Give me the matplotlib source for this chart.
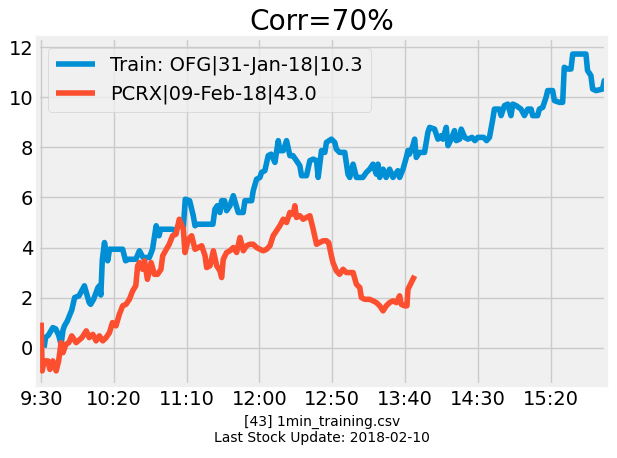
import matplotlib
matplotlib.use("Agg")
import matplotlib.pyplot as plt

# minutes since 9:30 and values
train_min = [2, 3, 5, 8, 10, 12, 13.7, 15, 16, 18, 21, 23, 26, 29.7, 31, 33, 34, 36, 39, 40,
             41, 42, 43.5, 44.5, 45.7, 47, 49, 56, 58, 60, 65, 67.5, 70, 74.3, 76.5, 79, 81, 82,
             86, 90, 92, 94.5, 96, 97.7, 99, 102, 104.5, 105.7, 107, 112, 118, 119.4, 121, 122.8,
             124, 126, 127.4, 129.7, 132, 134, 135.4, 138.8, 140, 144.6, 145.7, 148, 150.3, 151.4,
             153.7, 156, 158, 160.6, 162.9, 164, 166.3, 168.6, 170.9, 173, 175.4, 177.7, 178.9,
             182.3, 184.6, 186.9, 189.2, 190.3, 192.6, 194.9, 196, 199.4, 201.7, 202.8, 205, 208.6,
             210.8, 212, 214.3, 216.6, 221, 223.4, 225.7, 228, 230.3, 231.4, 232.6, 234.9, 237,
             239.4, 241.7, 245.1, 246.3, 248.6, 250.9, 252, 253, 255.4, 256.6, 257.7, 260, 263.4,
             265.7, 266.9, 270.3, 272.6, 274.9, 276, 278.3, 279.5, 281.7, 284, 285.2, 287.5, 288.6,
             291, 293.2, 296, 298, 300, 304, 306, 308, 310.3, 311.4, 314.8, 316, 318.3, 320.6, 322.8,
             324, 326.3, 329.7, 332, 334.3, 336.6, 337.7, 341.1, 342.3, 344.6, 346.9, 348, 351.4,
             352.6, 356, 358.3, 359.4, 361.7, 364, 365.2, 370, 374.3, 375.4, 377.7, 378.9, 381.2,
             385.7, 386.9, 388]
train_val = [0.0, 0.4, 0.5, 0.8, 0.75, 0.5, 0.13, 0.7, 0.87, 1.07, 1.5, 2.0, 2.07, 2.47, 2.2, 1.8,
             1.73, 1.93, 2.4, 2.47, 2.1, 3.5, 4.2, 3.87, 3.47, 3.93, 3.93, 3.93, 3.47, 3.53, 3.53,
             3.87, 3.6, 3.6, 3.93, 4.87, 4.47, 4.73, 4.73, 4.73, 4.67, 4.87, 5.0, 4.8, 5.93, 5.87,
             5.27, 4.87, 4.93, 4.93, 4.93, 5.53, 5.67, 5.4, 5.87, 5.87, 5.47, 5.67, 6.07, 5.67, 5.4,
             5.4, 5.87, 5.87, 6.27, 6.73, 6.8, 7.0, 7.07, 7.67, 7.73, 7.4, 8.27, 7.87, 7.87, 8.27,
             7.67, 7.67, 7.47, 7.27, 6.87, 6.87, 7.47, 7.53, 7.47, 6.8, 7.87, 7.8, 8.2, 8.33, 8.2,
             7.93, 7.8, 7.8, 6.93, 6.8, 7.33, 6.8, 6.8, 7.0, 7.13, 7.33, 6.93, 7.33, 6.8, 7.13, 6.8,
             7.13, 6.8, 7.07, 6.8, 7.13, 7.6, 7.87, 7.73, 8.07, 8.33, 7.6, 7.8, 7.8, 8.6, 8.8, 8.73,
             8.33, 8.47, 8.33, 8.8, 8.07, 8.33, 8.67, 8.27, 8.33, 8.73, 8.4, 8.33, 8.4, 8.27, 8.4,
             8.4, 8.27, 8.4, 9.13, 9.53, 9.53, 9.27, 9.67, 9.73, 9.27, 9.73, 9.67, 9.53, 9.27, 9.53,
             9.53, 9.27, 9.27, 9.53, 9.6, 10.0, 10.27, 10.27, 9.87, 9.8, 9.8, 11.2, 11.13, 11.13,
             11.73, 11.73, 11.73, 11.07, 10.87, 10.33, 10.27, 10.33, 10.67, 10.6]

test_min = [0, 0.7, 2, 4.6, 6, 8, 10.3, 12, 13.7, 15, 17, 19, 21, 24, 28, 31, 33, 35.5, 37.7, 40,
            42.3, 44.6, 46.9, 49, 51.4, 53.7, 56, 58.3, 60.6, 62.9, 65, 66.3, 67.5, 69.7, 71, 73,
            75.5, 77.8, 80, 82.3, 83.5, 86, 88, 90.3, 92.6, 94.9, 97.7, 98.8, 101.1, 103.4, 105.7,
            108, 110.3, 112.6, 113.7, 116, 118.3, 120.6, 122.8, 124, 125.1, 127.4, 129.7, 132,
            134.3, 136.6, 138.9, 141.1, 143.4, 145.7, 148, 150.3, 152.6, 154.9, 157.2, 159.4,
            161.7, 164, 166.3, 168.6, 170.9, 173.2, 174.3, 175.4, 177.7, 180, 182.3, 184.6, 186.9,
            189.2, 191.4, 193.7, 196, 197.5, 199.4, 200.5, 202.8, 205, 207.4, 209.7, 212, 214.3,
            216.6, 218.9, 220, 222.3, 225.7, 228, 230.3, 232.6, 234.9, 237.1, 239.4, 241.7, 244,
            246.3, 247.4, 249.7, 251.3, 252, 254.3, 256.6]
test_val = [1.0, -0.93, -0.53, -0.53, -0.87, -0.53, -0.93, -0.53, 0.2, -0.2, 0.13, 0.2, 0.47, 0.2,
            0.4, 0.67, 0.4, 0.53, 0.27, 0.47, 0.27, 0.4, 0.6, 1.0, 0.87, 1.33, 1.67, 1.73, 1.93,
            2.27, 2.47, 3.27, 3.4, 3.13, 3.47, 2.73, 3.4, 2.93, 2.93, 3.13, 3.67, 3.93, 4.13, 4.47,
            4.53, 5.13, 4.73, 3.8, 4.33, 4.47, 3.93, 4.0, 4.07, 3.67, 3.2, 3.27, 3.87, 3.27, 3.07,
            2.8, 3.53, 3.8, 3.87, 4.0, 3.8, 4.4, 3.87, 4.07, 4.13, 4.13, 4.0, 3.93, 3.87, 3.93,
            4.07, 4.47, 4.67, 4.87, 5.13, 5.0, 5.4, 5.33, 5.67, 5.2, 5.27, 5.13, 5.2, 5.27, 4.73,
            4.13, 4.2, 4.27, 4.27, 4.2, 3.67, 3.4, 3.07, 2.93, 3.13, 3.0, 3.0, 3.0, 2.53, 2.4, 2.0,
            1.93, 1.93, 1.87, 1.8, 1.67, 1.47, 1.67, 1.8, 1.87, 1.8, 2.07, 1.73, 1.67, 1.67, 2.33,
            2.6, 2.87]

tick_pos = [0, 50, 100, 150, 200, 250, 300, 350]
tick_lbl = ["9:30", "10:20", "11:10", "12:00", "12:50", "13:40", "14:30", "15:20"]

plt.style.use("fivethirtyeight")
fig = plt.figure(figsize=(6.17, 4.58), dpi=100, facecolor="white")
ax = fig.add_subplot(111)
fig.subplots_adjust(left=0.062, right=0.982, top=0.917, bottom=0.159)

ax.plot(train_min, train_val, label="Train: OFG|31-Jan-18|10.3")
ax.plot(test_min, test_val, label="PCRX|09-Feb-18|43.0")

ax.set_xlim(-2, 388)
ax.set_ylim(-1.5, 12.37)
ax.set_xticks(tick_pos)
ax.set_xticklabels(tick_lbl)
ax.set_yticks([0, 2, 4, 6, 8, 10, 12])
ax.set_title("Corr=70%")
ax.set_xlabel("[43] 1min_training.csv\nLast Stock Update: 2018-02-10", fontsize=10)
ax.legend(loc="upper left")

fig.savefig("out.png", dpi=100, facecolor="white")
